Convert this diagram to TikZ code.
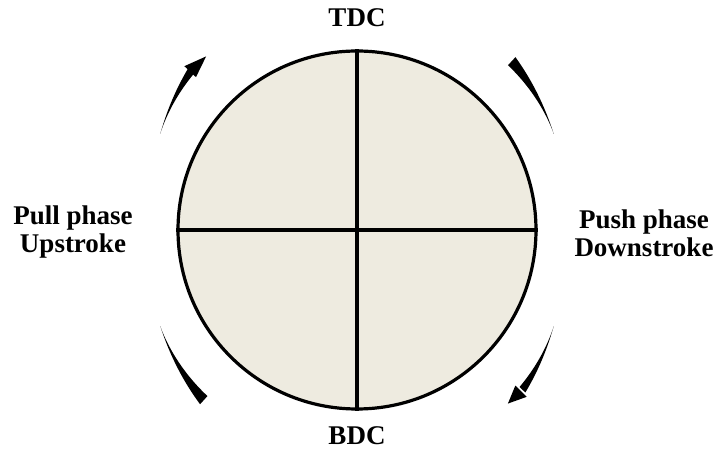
\documentclass[tikz,border=0pt]{standalone}
\usepackage{fontspec}
\setmainfont{Liberation Serif}
\definecolor{diskfill}{HTML}{EEEBE0}
\newcommand\taperarc[5]{% thin angle, thick angle, r thin, r thick, width
  \fill plot[domain=0.001:1,samples=40,variable=\t]
    ({357+(#3+(#4-#3)*\t+#5/2*\t*sqrt(\t))*cos(#1+(#2-#1)*\t)},
     {220+(#3+(#4-#3)*\t+#5/2*\t*sqrt(\t))*sin(#1+(#2-#1)*\t)})
    -- plot[domain=1:0.001,samples=40,variable=\t]
    ({357+(#3+(#4-#3)*\t-#5/2*\t*sqrt(\t))*cos(#1+(#2-#1)*\t)},
     {220+(#3+(#4-#3)*\t-#5/2*\t*sqrt(\t))*sin(#1+(#2-#1)*\t)})
    -- cycle;}
\newcommand\arrowhead[4]{% base angle, tip angle, radius, half width
  \fill ({357+(#3+#4)*cos(#1)},{220+(#3+#4)*sin(#1)})
     -- ({357+(#3)*cos(#2)},{220+(#3)*sin(#2)})
     -- ({357+(#3-#4)*cos(#1)},{220+(#3-#4)*sin(#1)}) -- cycle;}
\tikzset{
  lbl/.style={font=\bfseries\fontsize{27}{28}\selectfont, align=center, inner sep=0pt},
}
\begin{document}
\begin{tikzpicture}[x=1pt,y=1pt]
\useasboundingbox (0,0) rectangle (713,450);
\node[circle, draw=black, line width=3.2pt, fill=diskfill, minimum size=358pt, inner sep=0pt] (c) at (357,220) {};
\draw[line width=3.2pt] (c.north) -- (c.south);
\draw[line width=3.2pt] (c.west) -- (c.east);
\node[lbl] (tdc) at (357,432) {TDC};
\node[lbl] (bdc) at (357,14) {BDC};
\node[lbl] (pull) at (73,218) {Pull phase\\Upstroke};
\node[lbl] (push) at (644,217) {Push phase\\Downstroke};
% arrows
\taperarc{154}{136}{219}{230}{8}
\arrowhead{136.5}{131}{230}{8}
\taperarc{26}{47.5}{219}{229}{11}
\taperarc{206}{228}{219}{229}{11}
\taperarc{-26}{-44}{219}{230}{8}
\arrowhead{-44.5}{-49}{230}{8}
\end{tikzpicture}
\end{document}
